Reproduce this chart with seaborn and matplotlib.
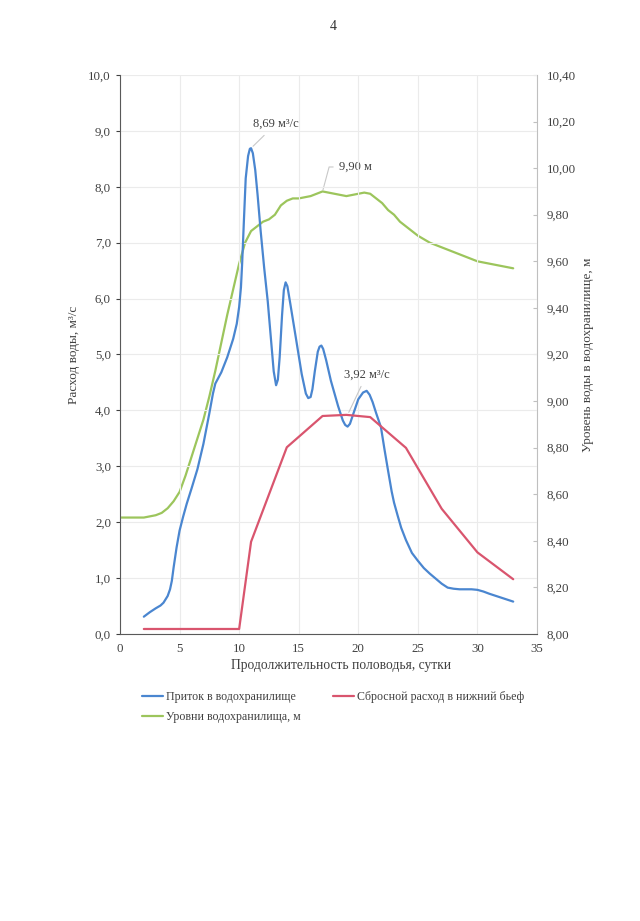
import numpy as np
import pandas as pd
import matplotlib
matplotlib.use('Agg')
import matplotlib.pyplot as plt
from matplotlib.ticker import FuncFormatter, MultipleLocator
import seaborn as sns

# Приток в водохранилище
inflow_days = [2.0, 2.5, 3.0, 3.4, 3.65, 4.0, 4.2, 4.35, 4.5, 4.75, 5.0, 5.3, 5.6, 6.0,
               6.5, 7.0, 7.5, 7.8, 8.0, 8.5, 9.0, 9.5, 9.8, 10.0, 10.15, 10.25, 10.4,
               10.55, 10.75, 10.9, 11.0, 11.15, 11.35, 11.55, 11.8, 12.1, 12.4, 12.7,
               12.9, 13.1, 13.25, 13.4, 13.6, 13.75, 13.9, 14.05, 14.3, 14.75, 15.25,
               15.6, 15.8, 16.0, 16.15, 16.35, 16.6, 16.75, 16.9, 17.05, 17.3, 17.7,
               18.3, 18.7, 18.9, 19.1, 19.3, 19.6, 20.0, 20.4, 20.7, 20.95, 21.2, 21.5,
               21.9, 22.2, 22.5, 22.8, 23.0, 23.3, 23.6, 24.0, 24.5, 25.0, 25.5, 26.0,
               26.5, 27.0, 27.5, 28.0, 28.5, 29.0, 29.5, 30.0, 30.5, 31.0, 32.0, 33.0]
inflow = [0.31, 0.39, 0.46, 0.51, 0.56, 0.68, 0.80, 0.95, 1.19, 1.55, 1.85, 2.10, 2.33, 2.60,
          2.95, 3.40, 3.95, 4.30, 4.48, 4.68, 4.95, 5.28, 5.55, 5.85, 6.20, 6.62, 7.40,
          8.15, 8.55, 8.68, 8.69, 8.60, 8.30, 7.85, 7.22, 6.55, 5.95, 5.20,
          4.70, 4.45, 4.55, 4.95, 5.70, 6.15, 6.29, 6.22, 5.90, 5.31, 4.65,
          4.30, 4.22, 4.24, 4.38, 4.70, 5.05, 5.14, 5.16, 5.10, 4.90, 4.53,
          4.08, 3.82, 3.74, 3.71, 3.76, 3.95, 4.20, 4.32, 4.35, 4.28, 4.15, 3.95,
          3.70, 3.30, 2.92, 2.55, 2.35, 2.12, 1.90, 1.68, 1.45, 1.31, 1.18, 1.08,
          0.99, 0.90, 0.83, 0.81, 0.80, 0.80, 0.80, 0.79, 0.76, 0.72, 0.65, 0.58]

# Сбросной расход в нижний бьеф
outflow_days = [2, 10, 11, 14, 17, 19, 21, 24, 27, 30, 33]
outflow = [0.09, 0.09, 1.65, 3.34, 3.90, 3.92, 3.88, 3.33, 2.24, 1.46, 0.98]

# Уровни водохранилища, м
level_days = [0, 1, 2, 3, 3.5, 4, 4.5, 5, 5.5, 6, 6.5, 7, 7.5, 8, 8.5, 9, 9.5, 10, 10.5,
              11, 11.5, 12, 12.5, 13, 13.5, 14, 14.5, 15, 16, 16.5, 17, 17.5, 18, 19,
              19.5, 20, 20.5, 21, 21.5, 22, 22.5, 23, 23.5, 24, 25, 26, 27, 28, 29, 30,
              31, 32, 33]
level = [8.50, 8.50, 8.50, 8.51, 8.52, 8.54, 8.57, 8.61, 8.68, 8.76, 8.84, 8.92, 9.02,
         9.13, 9.25, 9.37, 9.48, 9.59, 9.68, 9.73, 9.75, 9.77, 9.78, 9.80, 9.84, 9.86,
         9.87, 9.87, 9.88, 9.89, 9.90, 9.895, 9.89, 9.88, 9.885, 9.89, 9.895, 9.89,
         9.87, 9.85, 9.82, 9.80, 9.77, 9.75, 9.71, 9.68, 9.66, 9.64, 9.62, 9.60,
         9.59, 9.58, 9.57]

df_in = pd.DataFrame({'day': inflow_days, 'q': inflow})
df_out = pd.DataFrame({'day': outflow_days, 'q': outflow})
df_lvl = pd.DataFrame({'day': level_days, 'h': level})

sns.set_style('white')
plt.rcParams['font.family'] = ['Liberation Serif', 'DejaVu Serif']
plt.rcParams['font.size'] = 9
plt.rcParams['lines.solid_joinstyle'] = 'round'

c_blue = '#4a86d0'
c_red = '#d9556e'
c_green = '#9cc55c'
grey = '#595959'
txt = '#404040'

fig = plt.figure(figsize=(6.4, 9.21), dpi=100)
ax = fig.add_axes([0.1875, 0.3116, 0.6516, 0.607])
ax2 = ax.twinx()

sns.lineplot(data=df_in, x='day', y='q', ax=ax, color=c_blue, lw=1.6,
             label='Приток в водохранилище', legend=False)
sns.lineplot(data=df_out, x='day', y='q', ax=ax, color=c_red, lw=1.6,
             label='Сбросной расход в нижний бьеф', legend=False)
sns.lineplot(data=df_lvl, x='day', y='h', ax=ax2, color=c_green, lw=1.6,
             label='Уровни водохранилища, м', legend=False)
ax2.set_zorder(ax.get_zorder() - 1)
ax.patch.set_visible(False)

ax.set_xlim(0, 35)
ax.set_ylim(0, 10)
ax2.set_ylim(8.0, 10.4)
ax.xaxis.set_major_locator(MultipleLocator(5))
ax.yaxis.set_major_locator(MultipleLocator(1))
ax2.yaxis.set_major_locator(MultipleLocator(0.2))
ax.yaxis.set_major_formatter(FuncFormatter(lambda v, p: f'{v:.1f}'.replace('.', ',')))
ax2.yaxis.set_major_formatter(FuncFormatter(lambda v, p: f'{v:.2f}'.replace('.', ',')))

ax.grid(True, color='#ebebeb', lw=0.8)
ax2.grid(False)
for a in (ax, ax2):
    a.tick_params(labelsize=9.3, colors=txt, length=3, width=0.8)
ax.spines['top'].set_visible(False)
ax2.spines['top'].set_visible(False)
ax.spines['left'].set_color(grey)
ax.spines['bottom'].set_color(grey)
ax2.spines['left'].set_visible(False)
ax2.spines['bottom'].set_visible(False)
ax2.spines['right'].set_color('#bfbfbf')
ax.spines['right'].set_visible(False)
ax2.tick_params(axis='y', direction='in', length=3, color='#bfbfbf', pad=7)

ax.set_xlabel('Продолжительность половодья, сутки', fontsize=9.75, color=txt)
ax.xaxis.set_label_coords(0.53, -0.044)
ax.set_ylabel('Расход воды, м³/с', fontsize=9.5, color=txt)
ax.yaxis.set_label_coords(-0.096, 0.5)
ax2.set_ylabel('Уровень воды в водохранилище, м', fontsize=9.5, color=txt)
ax2.yaxis.set_label_coords(1.108, 0.5)

# callouts
ax.annotate('8,69 м³/с', xy=(11.0, 8.69), xytext=(13.06, 9.12), ha='center', va='center',
            fontsize=9, color=txt,
            arrowprops=dict(arrowstyle='-', color='#c8c8c8', lw=0.8))
ax.annotate('3,92 м³/с', xy=(19.1, 3.92), xytext=(20.7, 4.64), ha='center', va='center',
            fontsize=9, color=txt,
            arrowprops=dict(arrowstyle='-', color='#c8c8c8', lw=0.8))
ax2.annotate('9,90 м', xy=(17.0, 9.90), xytext=(18.4, 10.005), ha='left', va='center',
             fontsize=9, color=txt,
             arrowprops=dict(arrowstyle='-', color='#c8c8c8', lw=0.8, relpos=(0, 0.5),
                             shrinkA=2, shrinkB=1,
                             connectionstyle='angle,angleA=0,angleB=75,rad=0'))

fig.text(0.521, 0.971, '4', ha='center', va='center', fontsize=10, color='#333333')

h1, l1 = ax.get_legend_handles_labels()
h2, l2 = ax2.get_legend_handles_labels()
handles = [h1[0], h2[0], h1[1]]
labels = [l1[0], l2[0], l1[1]]
fig.legend(handles, labels, ncol=2, loc='upper left', bbox_to_anchor=(0.205, 0.261),
           frameon=False, fontsize=8.6, handlelength=1.78, handletextpad=0.25,
           columnspacing=2.7, labelspacing=0.65, labelcolor=txt)

fig.savefig('out.png', dpi=100)
